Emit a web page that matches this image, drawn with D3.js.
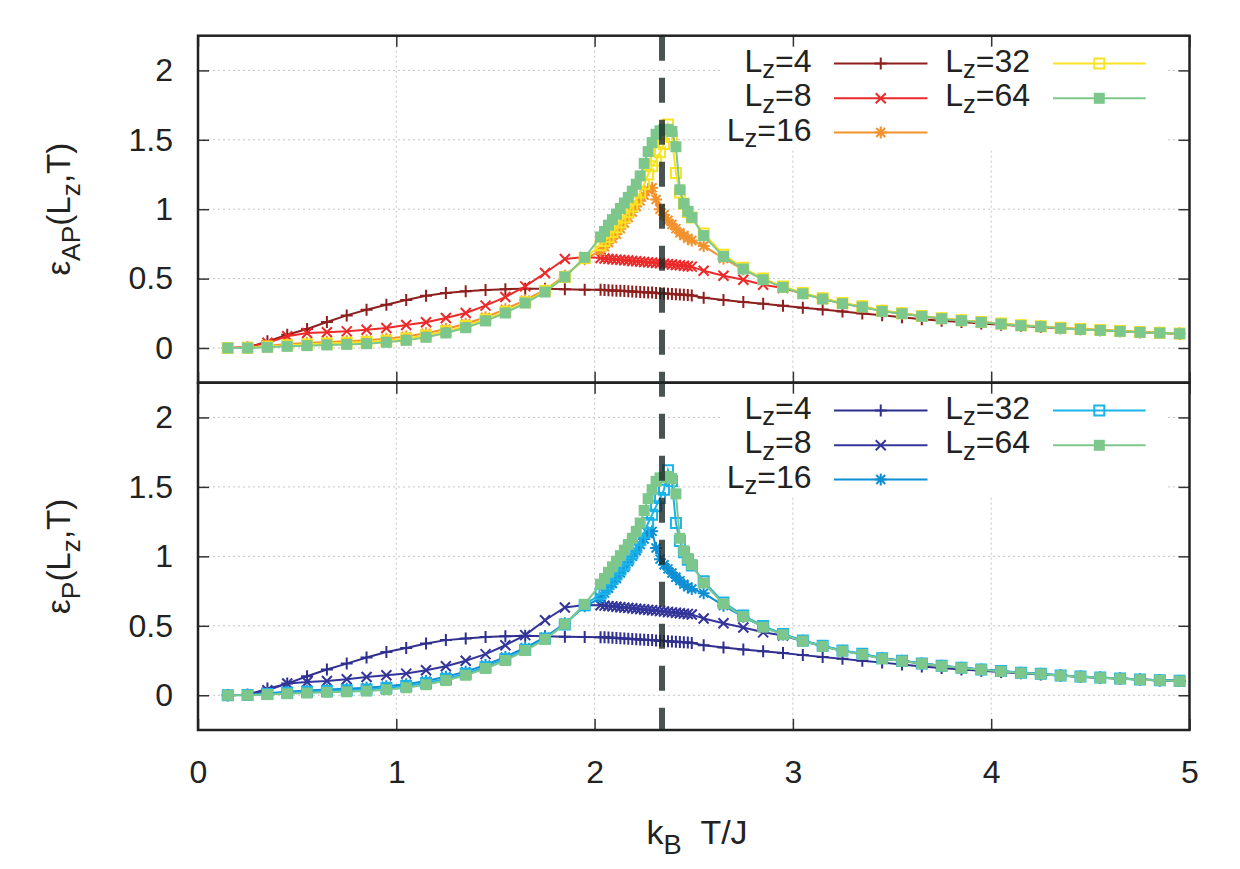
<!DOCTYPE html>
<html>
<head>
<meta charset="utf-8">
<script src="https://cdn.jsdelivr.net/npm/d3@7"></script>
<style>
  body { margin: 0; background: #fff; }
  text { font-family: "Liberation Sans", Arial, Helvetica, sans-serif; fill: #222; }
</style>
</head>
<body>
<div id="chart"></div>
<script>
// temperatures k_B T / J (shared by every curve)
var temps = [0.15,0.25,0.35,0.45,0.55,0.65,0.75,0.85,0.95,1.05,1.15,1.25,1.35,1.45,1.55,1.65,1.75,1.85,1.95,
  2.03,2.05,2.07,2.09,2.11,2.13,2.15,2.17,2.19,2.21,2.23,2.25,2.27,2.29,2.31,2.33,2.35,2.37,2.39,2.41,2.43,2.45,2.47,2.49,
  2.55,2.65,2.75,2.85,2.95,3.05,3.15,3.25,3.35,3.45,3.55,3.65,3.75,3.85,3.95,4.05,4.15,4.25,4.35,4.45,4.55,4.65,4.75,4.85,4.95];

var sizeLabels = ["4", "8", "16", "32", "64"];
var xTickValues = [0, 1, 2, 3, 4, 5];
var yTickValues = [0, 0.5, 1, 1.5, 2];
var criticalT = 2.34;

// top panel: epsilon_AP
var apL4 = [0.000,0.004,0.048,0.096,0.137,0.187,0.235,0.276,0.312,0.346,0.377,0.396,0.408,0.418,0.424,0.426,0.426,0.424,0.420,
  0.419,0.418,0.416,0.415,0.413,0.412,0.410,0.409,0.407,0.405,0.404,0.402,0.400,0.399,0.397,0.395,0.393,0.391,0.389,0.387,0.385,0.383,0.381,0.379,
  0.362,0.345,0.331,0.318,0.305,0.290,0.277,0.263,0.249,0.236,0.222,0.208,0.197,0.187,0.177,0.168,0.159,0.151,0.143,0.135,0.128,0.121,0.114,0.108,0.103];
var apL8 = [0.000,0.005,0.038,0.085,0.108,0.113,0.120,0.132,0.144,0.166,0.185,0.216,0.252,0.305,0.367,0.444,0.540,0.641,0.655,
  0.648,0.645,0.642,0.640,0.637,0.635,0.632,0.630,0.627,0.625,0.622,0.620,0.617,0.615,0.612,0.610,0.607,0.604,0.601,0.598,0.595,0.592,0.589,0.586,
  0.556,0.521,0.492,0.456,0.432,0.393,0.355,0.321,0.297,0.266,0.249,0.229,0.212,0.198,0.186,0.174,0.162,0.155,0.143,0.135,0.128,0.121,0.114,0.109,0.104];
var apL16 = [0.000,0.003,0.015,0.028,0.036,0.043,0.049,0.056,0.067,0.083,0.106,0.137,0.175,0.222,0.280,0.345,0.420,0.520,0.640,
  0.700,0.730,0.760,0.790,0.820,0.860,0.900,0.940,0.980,1.020,1.060,1.100,1.140,1.155,1.070,1.000,0.960,0.920,0.890,0.860,0.830,0.810,0.790,0.775,
  0.735,0.645,0.565,0.495,0.440,0.395,0.357,0.323,0.299,0.268,0.250,0.230,0.213,0.199,0.187,0.175,0.163,0.156,0.144,0.136,0.129,0.122,0.115,0.110,0.105];
var apL32 = [0.000,0.002,0.010,0.020,0.026,0.032,0.037,0.043,0.053,0.068,0.090,0.120,0.158,0.205,0.262,0.330,0.410,0.512,0.648,
  0.740,0.770,0.800,0.835,0.870,0.905,0.940,0.980,1.020,1.070,1.120,1.180,1.250,1.310,1.350,1.410,1.470,1.610,1.520,1.260,1.120,1.040,0.980,0.940,
  0.825,0.672,0.578,0.500,0.443,0.397,0.358,0.324,0.300,0.269,0.251,0.231,0.214,0.200,0.188,0.176,0.164,0.156,0.145,0.137,0.129,0.122,0.115,0.110,0.105];
var apL64 = [0.000,0.000,0.005,0.012,0.017,0.022,0.026,0.031,0.041,0.055,0.077,0.108,0.146,0.195,0.252,0.324,0.403,0.512,0.653,
  0.800,0.840,0.885,0.925,0.965,1.005,1.045,1.085,1.130,1.180,1.240,1.330,1.415,1.480,1.540,1.565,1.575,1.575,1.560,1.450,1.140,1.040,0.985,0.940,
  0.810,0.660,0.569,0.492,0.437,0.391,0.353,0.319,0.295,0.264,0.247,0.228,0.211,0.197,0.185,0.173,0.161,0.154,0.142,0.134,0.127,0.120,0.113,0.108,0.103];

// bottom panel: epsilon_P
var pL4 = [0.000,0.004,0.048,0.084,0.137,0.185,0.228,0.272,0.312,0.341,0.372,0.397,0.409,0.420,0.425,0.428,0.424,0.421,0.420,
  0.418,0.417,0.415,0.414,0.412,0.410,0.409,0.407,0.405,0.404,0.402,0.400,0.398,0.397,0.395,0.393,0.391,0.389,0.387,0.385,0.383,0.381,0.379,0.377,
  0.360,0.344,0.330,0.317,0.304,0.289,0.276,0.262,0.248,0.235,0.221,0.207,0.196,0.186,0.176,0.167,0.158,0.150,0.142,0.134,0.127,0.120,0.113,0.107,0.102];
var pL8 = [0.000,0.004,0.036,0.085,0.096,0.103,0.115,0.132,0.144,0.156,0.180,0.209,0.248,0.296,0.360,0.433,0.540,0.632,0.649,
  0.648,0.645,0.642,0.640,0.637,0.634,0.631,0.629,0.626,0.623,0.620,0.617,0.615,0.612,0.609,0.606,0.603,0.600,0.597,0.594,0.591,0.588,0.585,0.582,
  0.553,0.518,0.488,0.453,0.430,0.391,0.353,0.320,0.296,0.265,0.248,0.228,0.211,0.197,0.185,0.173,0.161,0.154,0.142,0.134,0.127,0.120,0.113,0.108,0.103];
var pL16 = [0.000,0.003,0.014,0.026,0.034,0.041,0.047,0.054,0.065,0.080,0.103,0.133,0.170,0.218,0.276,0.342,0.418,0.518,0.640,
  0.700,0.735,0.770,0.805,0.840,0.880,0.920,0.960,1.000,1.040,1.085,1.125,1.165,1.180,1.060,0.980,0.940,0.910,0.880,0.850,0.825,0.800,0.780,0.765,
  0.735,0.645,0.565,0.493,0.438,0.393,0.355,0.321,0.297,0.266,0.249,0.229,0.212,0.198,0.186,0.174,0.162,0.155,0.143,0.135,0.128,0.121,0.114,0.109,0.104];
var pL32 = [0.000,0.002,0.009,0.019,0.025,0.031,0.036,0.042,0.052,0.066,0.088,0.118,0.155,0.202,0.260,0.328,0.408,0.510,0.648,
  0.730,0.765,0.800,0.835,0.870,0.905,0.940,0.980,1.020,1.065,1.115,1.170,1.240,1.300,1.360,1.420,1.480,1.620,1.540,1.240,1.110,1.030,0.975,0.935,
  0.820,0.668,0.575,0.498,0.441,0.395,0.356,0.322,0.298,0.267,0.249,0.229,0.212,0.198,0.186,0.174,0.162,0.155,0.143,0.135,0.128,0.121,0.114,0.109,0.104];
var pL64 = [0.000,0.000,0.005,0.011,0.016,0.021,0.025,0.030,0.040,0.054,0.076,0.106,0.144,0.193,0.250,0.322,0.402,0.512,0.655,
  0.800,0.840,0.885,0.925,0.965,1.005,1.045,1.085,1.130,1.180,1.240,1.330,1.415,1.480,1.540,1.565,1.570,1.575,1.560,1.450,1.130,1.040,0.985,0.940,
  0.808,0.658,0.567,0.490,0.436,0.390,0.352,0.318,0.294,0.263,0.246,0.227,0.210,0.196,0.184,0.172,0.160,0.153,0.141,0.133,0.126,0.119,0.112,0.107,0.102];

var svgWidth = 1240, svgHeight = 869;
var plotLeft = 198, plotRight = 1189.5;
var fontSize = 32;

var svg = d3.select("#chart").append("svg")
  .attr("width", svgWidth)
  .attr("height", svgHeight);

var xScale = d3.scaleLinear().domain([0, 5]).range([plotLeft, plotRight]);

// marker paths
var markerPath = {
  plus: "M-6,0H6M0,-6V6",
  cross: "M-5,-5L5,5M-5,5L5,-5",
  star: "M-6,0H6M0,-6V6M-4.5,-4.5L4.5,4.5M-4.5,4.5L4.5,-4.5",
  openSquare: "M-5,-5H5V5H-5Z",
  fillSquare: "M-5.5,-5.5H5.5V5.5H-5.5Z"
};
var markers = ["plus", "cross", "star", "openSquare", "fillSquare"];

var panels = [
  { top: 35.7, bottom: 382.7, values: [apL4, apL8, apL16, apL32, apL64],
    colors: ["#8e1f1f", "#ec2a2a", "#f3922c", "#f7e321", "#7ec78c"],
    ylabel: ["\u03b5", "AP"], xLabels: false },
  { top: 382.7, bottom: 730, values: [pL4, pL8, pL16, pL32, pL64],
    colors: ["#2e2f8e", "#34359a", "#0d8fd4", "#1ab3ea", "#7ec78c"],
    ylabel: ["\u03b5", "P"], xLabels: true }
];

function addSubText(sel, parts, size, shift) {
  // parts: list of [string, isSub]
  var sub = false;
  parts.forEach(function(p) {
    var t = sel.append("tspan").text(p[0]);
    if (p[1] && !sub) { t.attr("dy", size * shift).style("font-size", (size * 0.8) + "px"); sub = true; }
    else if (!p[1] && sub) { t.attr("dy", -size * shift); sub = false; }
  });
}

function drawPanel(p) {
  var yScale = d3.scaleLinear().domain([-0.25, 2.25]).range([p.bottom, p.top]);
  var g = svg.append("g");

  // dotted grid
  g.append("g").selectAll("line").data(xTickValues.slice(1, -1)).enter().append("line")
    .attr("x1", d => xScale(d)).attr("x2", d => xScale(d))
    .attr("y1", p.top).attr("y2", p.bottom)
    .attr("stroke", "#c4c4c4").attr("stroke-width", 1).attr("stroke-dasharray", "2,3");
  g.append("g").selectAll("line").data(yTickValues).enter().append("line")
    .attr("x1", plotLeft).attr("x2", plotRight)
    .attr("y1", d => yScale(d)).attr("y2", d => yScale(d))
    .attr("stroke", "#c4c4c4").attr("stroke-width", 1).attr("stroke-dasharray", "2,3");

  // curves
  var line = d3.line().x(d => xScale(d[0])).y(d => yScale(d[1]));
  p.values.forEach(function(vals, i) {
    var pts = temps.map((t, k) => [t, vals[k]]);
    var color = p.colors[i];
    var sg = g.append("g");
    sg.append("path").datum(pts)
      .attr("d", line).attr("fill", "none")
      .attr("stroke", color).attr("stroke-width", 2);
    sg.selectAll("path.m").data(pts).enter().append("path")
      .attr("class", "m")
      .attr("transform", d => `translate(${xScale(d[0])},${yScale(d[1])})`)
      .attr("d", markerPath[markers[i]])
      .attr("fill", markers[i] == "fillSquare" ? color : "none")
      .attr("stroke", markers[i] == "fillSquare" ? "none" : color)
      .attr("stroke-width", 2);
  });

  // legend
  var lg = g.append("g");
  lg.append("rect")
    .attr("x", 722).attr("y", p.top + 1.5)
    .attr("width", 443).attr("height", 113)
    .attr("fill", "#fff");
  var rowOff = [27.8, 62.6, 96.8];
  var cols = [{ textEnd: 811.5, l1: 834, l2: 927.5 }, { textEnd: 1030, l1: 1053, l2: 1145.6 }];
  sizeLabels.forEach(function(lab, i) {
    var c = cols[Math.floor(i / 3)];
    var yy = p.top + rowOff[i % 3];
    var color = p.colors[i];
    var txt = lg.append("text")
      .attr("x", c.textEnd).attr("y", yy + 8)
      .attr("text-anchor", "end")
      .style("font-size", fontSize + "px");
    addSubText(txt, [["L", false], ["z", true], ["=" + lab, false]], fontSize, 0.2);
    lg.append("line")
      .attr("x1", c.l1).attr("x2", c.l2).attr("y1", yy).attr("y2", yy)
      .attr("stroke", color).attr("stroke-width", 2);
    lg.append("path")
      .attr("transform", `translate(${(c.l1 + c.l2) / 2},${yy})`)
      .attr("d", markerPath[markers[i]])
      .attr("fill", markers[i] == "fillSquare" ? color : "none")
      .attr("stroke", markers[i] == "fillSquare" ? "none" : color)
      .attr("stroke-width", 2);
  });

  // inward ticks on all four sides
  var tickLen = 11;
  var leftAxis = d3.axisLeft(yScale).tickValues(yTickValues).tickSize(-tickLen).tickPadding(25)
    .tickFormat(d3.format(""));
  var rightAxis = d3.axisRight(yScale).tickValues(yTickValues).tickSize(-tickLen).tickFormat("");
  var topAxis = d3.axisTop(xScale).tickValues(xTickValues).tickSize(-tickLen).tickFormat("");
  var bottomAxis = d3.axisBottom(xScale).tickValues(xTickValues).tickSize(-tickLen).tickPadding(30)
    .tickFormat(p.xLabels ? d3.format("") : "");

  var axes = [
    g.append("g").attr("transform", `translate(${plotLeft},0)`).call(leftAxis),
    g.append("g").attr("transform", `translate(${plotRight},0)`).call(rightAxis),
    g.append("g").attr("transform", `translate(0,${p.top})`).call(topAxis),
    g.append("g").attr("transform", `translate(0,${p.bottom})`).call(bottomAxis)
  ];
  axes.forEach(function(a) {
    a.select(".domain").remove();
    a.selectAll(".tick line").attr("stroke", "#333").attr("stroke-width", 1.5);
    a.selectAll(".tick text").attr("fill", "#222")
      .style("font-size", fontSize + "px")
      .style("font-family", "'Liberation Sans', Arial, Helvetica, sans-serif");
  });

  // frame
  g.append("rect")
    .attr("x", plotLeft).attr("y", p.top)
    .attr("width", plotRight - plotLeft).attr("height", p.bottom - p.top)
    .attr("fill", "none").attr("stroke", "#222").attr("stroke-width", 2.5);

  // y label
  var yl = g.append("text")
    .attr("transform", `translate(70,${(p.top + p.bottom) / 2}) rotate(-90)`)
    .attr("text-anchor", "middle")
    .style("font-size", "33px");
  addSubText(yl, [[p.ylabel[0], false], [p.ylabel[1], true], ["(L", false], ["z", true], [",T)", false]], 33, 0.3);
}

panels.forEach(drawPanel);

// x axis label
var xl = svg.append("text")
  .attr("x", 697).attr("y", 844)
  .attr("text-anchor", "middle")
  .style("font-size", "34px");
addSubText(xl, [["k", false], ["B", true], ["\u00a0\u00a0T/J", false]], 34, 0.3);

// critical temperature marker
svg.append("line")
  .attr("x1", xScale(criticalT)).attr("x2", xScale(criticalT))
  .attr("y1", panels[0].top).attr("y2", panels[1].bottom)
  .attr("stroke", "rgb(28,40,38)").attr("stroke-opacity", 0.8)
  .attr("stroke-width", 6).attr("stroke-dasharray", "25,17");
</script>
</body>
</html>
